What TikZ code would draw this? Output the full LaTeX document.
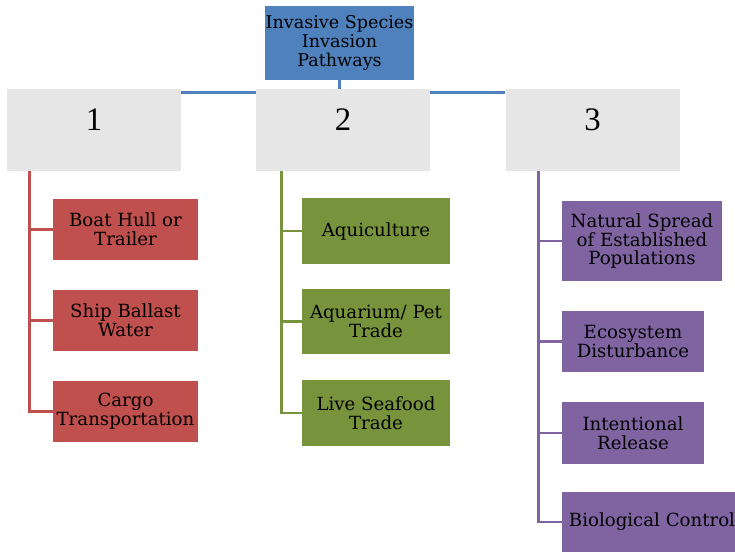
\documentclass[tikz,border=0pt]{standalone}
\usepackage{fontspec}
\setmainfont{DejaVu Serif}
\newfontfamily\digitfont{Liberation Serif}

\definecolor{rootblue}{HTML}{4F81BD}
\definecolor{pathgray}{HTML}{E6E6E6}
\definecolor{vesselred}{HTML}{C0504D}
\definecolor{tradegreen}{HTML}{77933C}
\definecolor{spreadpurple}{HTML}{8064A2}

\begin{document}
\begin{tikzpicture}[
    x = 0.03cm, y = -0.03cm,
    root/.style = {
        rectangle,
        fill = rootblue,
        minimum width = 4.47cm,
        minimum height = 2.22cm,
        inner sep = 0pt,
        align = center,
        font = \fontsize{15}{16.2}\selectfont
    },
    pathway/.style = {
        rectangle,
        fill = pathgray,
        minimum width = 5.22cm,
        minimum height = 2.46cm,
        text height = 0.8cm,
        text depth = 0.8cm,
        font = \digitfont\fontsize{28}{30}\selectfont
    },
    item/.style = {
        rectangle,
        minimum height = 1.83cm,
        inner sep = 0pt,
        align = center,
        font = \fontsize{15.5}{16.2}\selectfont
    },
    vessel/.style = {item, fill = vesselred, minimum width = 4.35cm},
    trade/.style = {item, fill = tradegreen, minimum width = 4.44cm, minimum height = 1.97cm},
    spread/.style = {item, fill = spreadpurple, minimum width = 4.26cm},
    link/.style = {line width = 2.2pt},
    rootlink/.style = {link, rootblue},
    vessellink/.style = {link, vesselred},
    tradelink/.style = {link, tradegreen},
    spreadlink/.style = {link, spreadpurple}
]
\clip (0,0) rectangle (735,552);

% Root and the three pathway groups
\node[root] (root) at (339.5,43) {Invasive Species\\Invasion\\Pathways};
\node[pathway] (p1) at (94,130) {1};
\node[pathway] (p2) at (343,130) {2};
\node[pathway] (p3) at (592.5,130) {3};

\draw[rootlink] (root.south) -- (root.south |- p2.north);
\draw[rootlink] ([yshift=-0.12cm]p1.north east) -- ([yshift=-0.12cm]p2.north west);
\draw[rootlink] ([yshift=-0.12cm]p2.north east) -- ([yshift=-0.12cm]p3.north west);

% Group 1
\node[vessel] (hull) at (125.5,229.5) {Boat Hull or\\Trailer};
\node[vessel] (ballast) at (125.5,320.5) {Ship Ballast\\Water};
\node[vessel] (cargo) at (125.5,411.5) {Cargo\\Transportation};

\coordinate (v1) at ([xshift=0.69cm]p1.south west);
\draw[vessellink] (v1) |- (hull.west);
\draw[vessellink] (v1) |- (ballast.west);
\draw[vessellink] (v1) |- (cargo.west);

% Group 2
\node[trade] (aqui) at (376,231) {Aquiculture};
\node[trade] (pet) at (376,321.5) {Aquarium/ Pet\\Trade};
\node[trade] (seafood) at (376,413) {Live Seafood\\Trade};

\coordinate (v2) at ([xshift=0.78cm]p2.south west);
\draw[tradelink] (v2) |- (aqui.west);
\draw[tradelink] (v2) |- (pet.west);
\draw[tradelink] (v2) |- (seafood.west);

% Group 3
\node[spread, minimum width = 4.8cm, minimum height = 2.4cm] (natural) at (642,241) {Natural Spread\\of Established\\Populations};
\node[spread] (eco) at (633,341.5) {Ecosystem\\Disturbance};
\node[spread, minimum height = 1.86cm] (release) at (633,433) {Intentional\\Release};
\node[spread, minimum width = 5.4cm, minimum height = 1.8cm] (bio) at (652,522) {Biological Control};

\coordinate (v3) at ([xshift=0.99cm]p3.south west);
\draw[spreadlink] (v3) |- (natural.west);
\draw[spreadlink] (v3) |- (eco.west);
\draw[spreadlink] (v3) |- (release.west);
\draw[spreadlink] (v3) |- (bio.west);

\end{tikzpicture}
\end{document}
